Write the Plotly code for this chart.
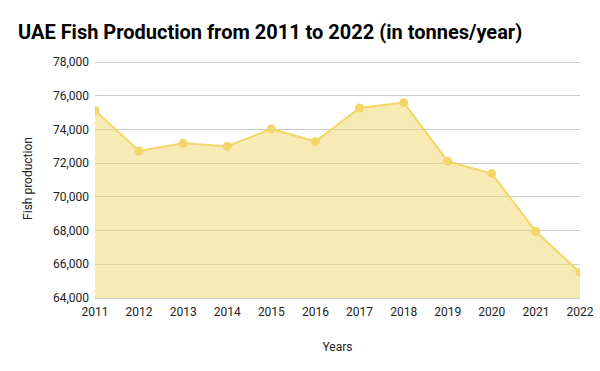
import plotly.graph_objects as go

years = [2011, 2012, 2013, 2014, 2015, 2016, 2017, 2018, 2019, 2020, 2021, 2022]
production = [75130, 72720, 73180, 73000, 74030, 73280, 75270, 75590, 72110, 71380, 67940, 65510]
y_ticks = [64000, 66000, 68000, 70000, 72000, 74000, 76000, 78000]

line_color = "#f2d669"
fill_color = "rgba(242,214,105,0.5)"

fig = go.Figure()
fig.add_trace(go.Scatter(
    x=years, y=production,
    mode="lines+markers",
    line=dict(color=line_color, width=2),
    marker=dict(color=line_color, size=9),
    fill="tozeroy",
    fillcolor=fill_color,
    cliponaxis=True,
    showlegend=False,
))

fig.update_layout(
    width=600, height=371,
    margin=dict(l=95, r=20, t=59, b=73, autoexpand=False),
    paper_bgcolor="white",
    plot_bgcolor="white",
    font=dict(family="Roboto", size=12, color="#222222"),
    title=dict(
        text="<b>UAE Fish Production from 2011 to 2022 (in tonnes/year)</b>",
        x=0.03, xanchor="left", y=0.915, yanchor="middle",
        font=dict(family="Roboto", size=20, color="#000000"),
    ),
)

fig.update_xaxes(
    range=[2011, 2022],
    tickmode="array", tickvals=years, ticktext=[str(y) for y in years],
    showgrid=False, zeroline=False,
    showline=True, linecolor="#cccccc", linewidth=1,
    ticks="", tickfont=dict(size=12, color="#222222"),
    ticklabelstandoff=3,
    title=dict(text="Years", font=dict(size=12, color="#222222"), standoff=24),
    automargin=False,
)

fig.update_yaxes(
    range=[64000, 78178],
    tickmode="array", tickvals=y_ticks,
    tickformat=",d",
    showgrid=True, gridcolor="#cccccc", gridwidth=1,
    zeroline=False, showline=False, ticks="",
    tickfont=dict(size=12, color="#222222"),
    ticklabelstandoff=5,
    title=dict(text="Fish production", font=dict(size=12, color="#222222"), standoff=17),
    automargin=False,
)

fig.write_html("out.html", post_script="document.body.style.margin='0';",
               config={"displayModeBar": False})
